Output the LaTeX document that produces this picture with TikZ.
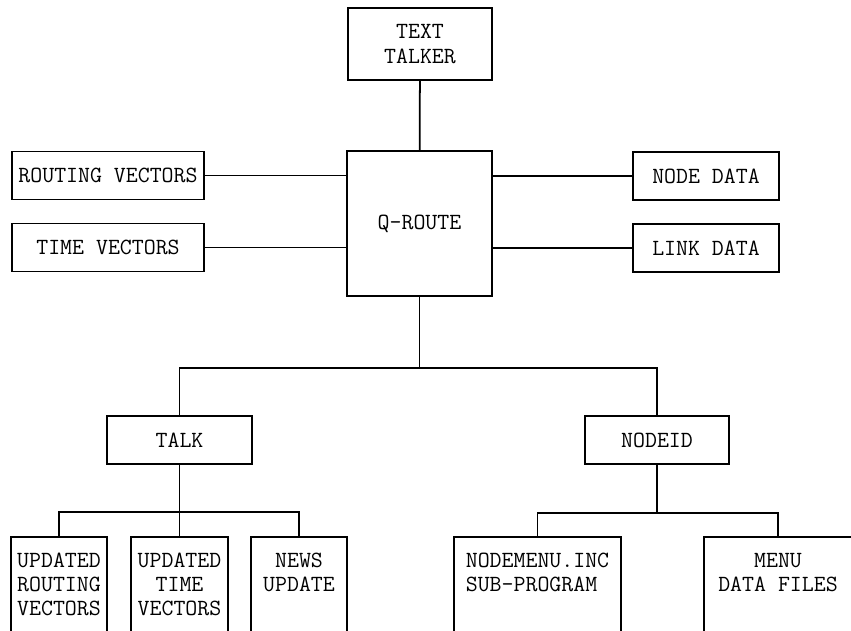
\documentclass[tikz,border=0pt]{standalone}
\begin{document}
\begin{tikzpicture}[x=0.02cm, y=-0.02cm, line width=1pt,
  font=\ttfamily\fontsize{13.2}{13.8}\selectfont,
  box/.style={draw, align=center, inner sep=0pt},
  leaf/.style={draw, align=center, anchor=north, inner xsep=0pt, inner ysep=0.32cm, text depth=2cm}]
  \clip (0,0) rectangle (851,630);

  \node (talker) [box, minimum width=2.88cm, minimum height=1.44cm] at (420,44) {TEXT\\TALKER};
  \node (qroute) [box, minimum width=2.9cm, minimum height=2.9cm] at (419.5,223.5) {Q-ROUTE};

  \node (routing) [box, minimum width=3.84cm, minimum height=0.96cm] at (108,175.5) {ROUTING VECTORS};
  \node (timevec) [box, minimum width=3.84cm, minimum height=0.96cm] at (108,247.5) {TIME VECTORS};
  \node (nodedata) [box, minimum width=2.92cm, minimum height=0.96cm] at (706,176) {NODE DATA};
  \node (linkdata) [box, minimum width=2.92cm, minimum height=0.96cm] at (706,248) {LINK DATA};

  \node (talk) [box, minimum width=2.9cm, minimum height=0.96cm] at (179.5,440) {TALK};
  \node (nodeid) [box, minimum width=2.88cm, minimum height=0.96cm] at (657,440) {NODEID};

  \node (updrout) [leaf, minimum width=1.92cm] at (59,536) {UPDATED\\ROUTING\\VECTORS};
  \node (updtime) [leaf, minimum width=1.94cm] at (179.5,536) {UPDATED\\TIME\\VECTORS};
  \node (news) [leaf, minimum width=1.92cm] at (299,536) {NEWS\\UPDATE};
  \node (nodemenu) [leaf, minimum width=3.34cm, align=left] at (537.5,536) {NODEMENU.INC\\SUB-PROGRAM};
  \node (menudata) [leaf, minimum width=2.96cm] at (778,536) {MENU\\DATA FILES};

  \coordinate (split) at (419.5,368);
  \coordinate (talksplit) at (179.5,512);
  \coordinate (idsplit) at (657,513);

  \draw (talker) -- (qroute);
  \draw (routing) -- (routing -| qroute.west);
  \draw (timevec) -- (timevec -| qroute.west);
  \draw (nodedata) -- (nodedata -| qroute.east);
  \draw (linkdata) -- (linkdata -| qroute.east);

  \draw (qroute) -- (split);
  \draw (talk.north) |- (split) -| (nodeid.north);

  \draw (talk) -- (updtime);
  \draw (updrout.north) |- (talksplit) -| (news.north);

  \draw (nodeid) -- (idsplit);
  \draw (nodemenu.north) |- (idsplit) -| (menudata.north);
\end{tikzpicture}
\end{document}
